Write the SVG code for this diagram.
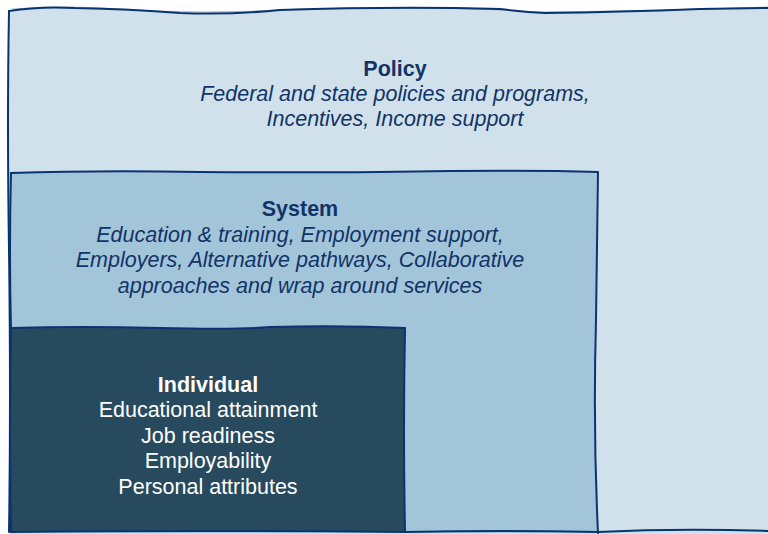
<svg xmlns="http://www.w3.org/2000/svg" width="768" height="534" viewBox="0 0 768 534">
  <style>
    .edge { fill: none; stroke: #0a3470; stroke-width: 2; stroke-linecap: round; stroke-linejoin: round; }
    .edge2 { fill: none; stroke: #0a3470; stroke-width: 1; stroke-opacity: 0.35; }
    .title { font-family: "Liberation Sans", Arial, sans-serif; font-size: 21.5px; font-weight: bold; text-anchor: middle; }
    .body { font-family: "Liberation Sans", Arial, sans-serif; font-size: 21.5px; text-anchor: middle; }
    .dark { fill: #123366; }
    .light { fill: #ffffff; }
    .it { font-style: italic; }
  </style>
  <rect width="768" height="534" fill="#ffffff"/>

  <!-- Policy: outermost layer -->
  <g id="policy">
    <path d="M9,11 Q40,6 75,8 Q130,9 180,13 Q230,15 280,10 Q400,6 500,9 Q525,12 545,13 Q620,12 700,9 L770,8 L770,534 L9,534 Z" fill="#d0e1ec"/>
    <path class="edge" d="M9,11 Q40,6 75,8 Q130,9 180,13 Q230,15 280,10 Q400,6 500,9 Q525,12 545,13 Q620,12 700,9 L770,8"/>
    <path class="edge2" d="M12,9 Q60,5 120,9 Q200,15 300,9 Q450,6 540,12 Q650,11 768,7"/>
    <path class="edge" d="M9,11 Q7,120 9,250 Q11,400 9,532"/>
    <path class="edge" d="M598,532 Q680,528 768,531"/>
    <text class="title dark" x="395" y="76">Policy</text>
    <text class="body dark it" x="395" y="101">Federal and state policies and programs,</text>
    <text class="body dark it" x="395" y="126">Incentives, Income support</text>
  </g>

  <!-- System: middle layer -->
  <g id="system">
    <path d="M11,173 Q100,170 200,172 Q350,173 450,171 Q540,170 598,172 Q597,250 596,320 Q593,430 598,533 L11,533 Z" fill="#a2c5da"/>
    <path class="edge" d="M11,173 Q100,170 200,172 Q350,173 450,171 Q540,170 598,172 Q597,250 596,320 Q593,430 598,533"/>
    <path class="edge" d="M11,173 Q9,250 11,330"/>
    <path class="edge" d="M405,532 Q500,530 598,532"/>
    <text class="title dark" x="300" y="216">System</text>
    <text class="body dark it" x="300" y="242">Education &amp; training, Employment support,</text>
    <text class="body dark it" x="300" y="267">Employers, Alternative pathways, Collaborative</text>
    <text class="body dark it" x="300" y="293">approaches and wrap around services</text>
  </g>

  <!-- Individual: innermost layer -->
  <g id="individual">
    <path d="M11,328 Q80,326 160,328 Q240,330 270,327 Q340,325 405,328 Q403,430 405,532 L11,532 Q9,430 11,328 Z" fill="#284a5e"/>
    <path class="edge" d="M11,328 Q80,326 160,328 Q240,330 270,327 Q340,325 405,328 Q403,430 405,532"/>
    <path class="edge" d="M11,328 Q9,430 11,532"/>
    <path class="edge" d="M11,532 Q200,530 405,532"/>
    <text class="title light" x="208" y="392">Individual</text>
    <text class="body light" x="208" y="417">Educational attainment</text>
    <text class="body light" x="208" y="443">Job readiness</text>
    <text class="body light" x="208" y="468">Employability</text>
    <text class="body light" x="208" y="494">Personal attributes</text>
  </g>

  <!-- no connectors between the nested layers -->
  <g id="connectors"/>
</svg>
